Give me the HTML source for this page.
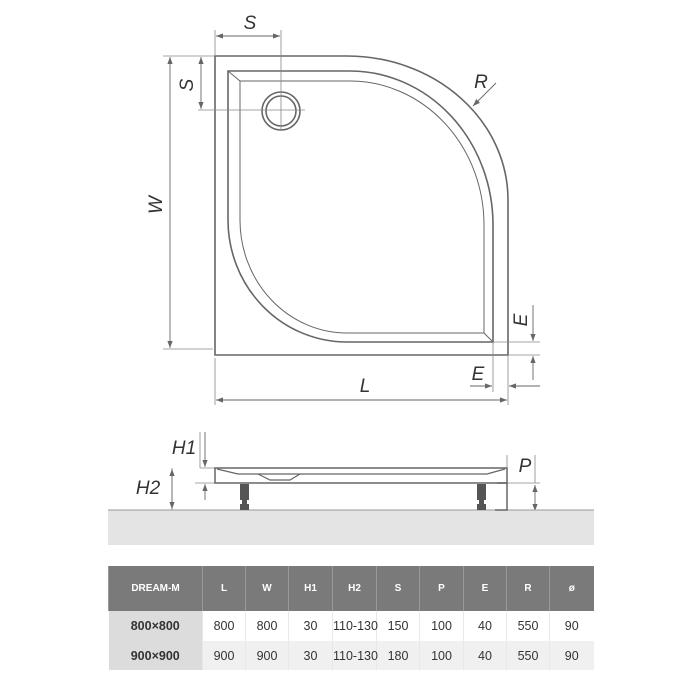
<!DOCTYPE html>
<html><head><style>
body{margin:0;width:700px;height:700px;background:#fff;overflow:hidden;font-family:"Liberation Sans",sans-serif}
table{position:absolute;left:108px;top:566px;border-collapse:collapse;width:485px;table-layout:fixed}
td{text-align:center;padding:0;font-size:12.5px;color:#333;border-left:1px solid #e8e8e8;white-space:nowrap;overflow:visible}
tr.h td{background:#7a7a7a;color:#fff;font-weight:bold;font-size:10px;height:45px;border-left:1px solid #999}
tr.r1 td{height:30px;background:#fff}
tr.r2 td{height:29px;background:#f0f0f0}
td.f{background:#dcdcdc!important;font-weight:bold;border-left:none}
</style></head><body>
<svg width="700" height="700" style="position:absolute;left:0;top:0" font-family="Liberation Sans" font-style="italic">
<defs><marker id="a" markerWidth="8" markerHeight="6" refX="8" refY="3" orient="auto"><path d="M0,0L8,3L0,6z" fill="#666"/></marker></defs>
<g fill="none" stroke="#666" stroke-width="1.6">
<path d="M215,56H347A161,144 0 0 1 508,200V355H215Z"/>
<path d="M228,71H350A143,154 0 0 1 493,225V342H347A119,122 0 0 1 228,220Z"/>
<path d="M240,81H350A134,144 0 0 1 484,225V333H347A107,113 0 0 1 240,220Z" stroke-width="1"/>
<path d="M228,71L240,81M493,342L484,333" stroke-width="1"/>
<circle cx="281" cy="111" r="19"/><circle cx="281" cy="111" r="15"/>
</g>
<g stroke="#888" stroke-width="0.8" fill="none">
<path d="M215,30V56M281,30V130M163,56H215M163,349H213M198,110H305M493,342V392M508,355V392M493,342H540M508,355H540M215,358V405M508,358V405"/>
<path d="M200,432V468M200,468H215M195,483H215M172,468V510M507,455V483M507,483H540M535,455V483"/>
</g>
<g stroke="#666" stroke-width="0.9" marker-end="url(#a)">
<line x1="248" y1="36" x2="216" y2="36"/><line x1="248" y1="36" x2="280" y2="36"/>
<line x1="201" y1="83" x2="201" y2="57"/><line x1="201" y1="83" x2="201" y2="109"/>
<line x1="170" y1="200" x2="170" y2="57"/><line x1="170" y1="200" x2="170" y2="348"/>
<line x1="360" y1="400" x2="216" y2="400"/><line x1="360" y1="400" x2="507" y2="400"/>
<line x1="470" y1="386" x2="492" y2="386"/><line x1="540" y1="386" x2="509" y2="386"/>
<line x1="533" y1="305" x2="533" y2="341"/><line x1="533" y1="380" x2="533" y2="356"/>
<line x1="496" y1="83" x2="473" y2="106"/>
<line x1="205" y1="432" x2="205" y2="467"/><line x1="205" y1="500" x2="205" y2="484"/>
<line x1="172" y1="490" x2="172" y2="469"/><line x1="172" y1="490" x2="172" y2="509"/>
<line x1="535" y1="500" x2="535" y2="511"/><line x1="535" y1="500" x2="535" y2="485"/>
</g>
<rect x="108" y="510" width="486" height="35" fill="#e4e4e4"/>
<line x1="108" y1="510" x2="594" y2="510" stroke="#999"/>
<g fill="none" stroke="#666" stroke-width="1.5">
<rect x="215" y="468" width="292" height="15" fill="#fff"/>
<path d="M217,469L238,474H487L505,469" stroke-width="1.3"/>
<path d="M258,474L270,480H290L300,474" stroke-width="1.2"/>
<path d="M497,483H507V510H495"/>
</g>
<g fill="#555"><rect x="240" y="484" width="9" height="16"/><rect x="242" y="500" width="5" height="4"/><rect x="240" y="504" width="9" height="6"/>
<rect x="477" y="484" width="9" height="16"/><rect x="479" y="500" width="5" height="4"/><rect x="477" y="504" width="9" height="6"/></g>
<g fill="#333" font-size="19">
<text x="250" y="29" text-anchor="middle">S</text>
<text transform="translate(193,85) rotate(-90)" text-anchor="middle">S</text>
<text transform="translate(162,205) rotate(-90)" text-anchor="middle">W</text>
<text x="481" y="88" text-anchor="middle">R</text>
<text x="365" y="392" text-anchor="middle">L</text>
<text x="478" y="380" text-anchor="middle">E</text>
<text transform="translate(527,320) rotate(-90)" text-anchor="middle">E</text>
<text x="184" y="454" text-anchor="middle">H1</text>
<text x="148" y="494" text-anchor="middle">H2</text>
<text x="525" y="472" text-anchor="middle">P</text>
</g>
</svg>
<table>
<colgroup><col style="width:94px"><col style="width:43px"><col style="width:43px"><col style="width:44px"><col style="width:44px"><col style="width:43px"><col style="width:44px"><col style="width:43px"><col style="width:43px"><col style="width:44px"></colgroup>
<tr class="h"><td class="f" style="background:#7a7a7a!important;color:#fff">DREAM-M</td><td>L</td><td>W</td><td>H1</td><td>H2</td><td>S</td><td>P</td><td>E</td><td>R</td><td>ø</td></tr>
<tr class="r1"><td class="f">800×800</td><td>800</td><td>800</td><td>30</td><td>110-130</td><td>150</td><td>100</td><td>40</td><td>550</td><td>90</td></tr>
<tr class="r2"><td class="f">900×900</td><td>900</td><td>900</td><td>30</td><td>110-130</td><td>180</td><td>100</td><td>40</td><td>550</td><td>90</td></tr>
</table>
</body></html>
